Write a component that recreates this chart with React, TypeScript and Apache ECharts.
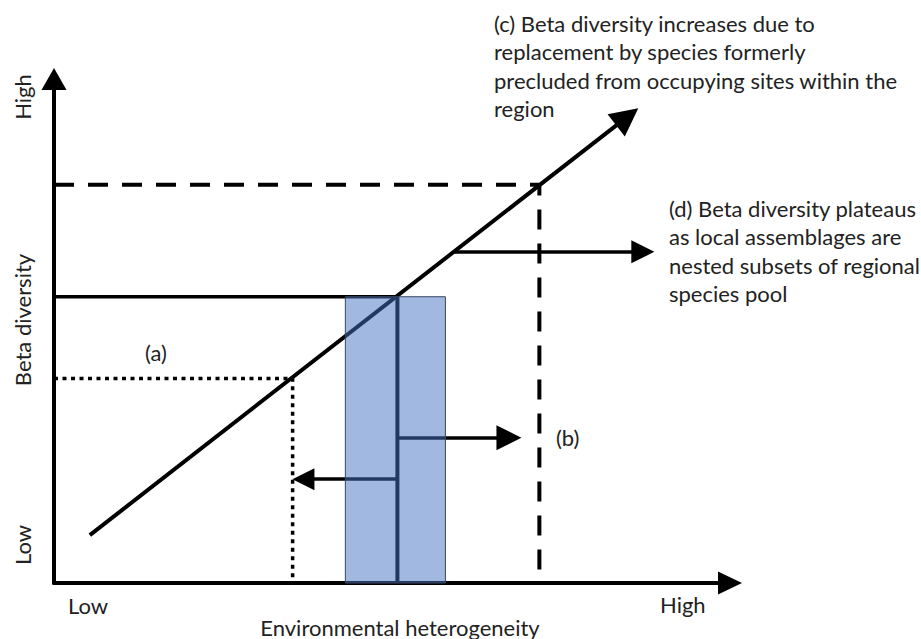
import React, { useEffect, useRef } from "react";
import * as echarts from "echarts";

// Conceptual axes (0 = low, 100 = high)
const xRange = [0, 100];
const yRange = [0, 100];

// Main relationship: beta diversity vs environmental heterogeneity
const diagonal = [[5.3, 9.5], [84.8, 92.5]];
// (a) dotted threshold
const dottedPath = [[0, 40.6], [35.3, 40.6], [35.3, 0]];
// current level (solid)
const solidPath = [[0, 56.8], [50.8, 56.8]];
const centerLine = [[50.8, 0], [50.8, 56.8]];
// (b) dashed threshold
const dashedPath = [[0, 79.0], [71.8, 79.0], [71.8, 0]];
// shaded band around current heterogeneity
const band = [43.1, 57.9, 0, 56.8]; // xStart, xEnd, yStart, yEnd
// arrows
const arrowRight = [[50.8, 28.8], [67.3, 28.8]];
const arrowLeft = [[50.8, 20.6], [36.9, 20.6]];
const arrowD = [[59.2, 65.7], [87.1, 65.7]];

// texts
const xTickLabels = ["Low", "High"];
const yTickLabels = ["Low", "High"];
const xAxisName = "Environmental heterogeneity";
const yAxisName = "Beta diversity";
const noteA = "(a)";
const noteB = "(b)";
const noteC = [
  "(c) Beta diversity increases due to",
  "replacement by species formerly",
  "precluded from occupying sites within the",
  "region",
];
const noteD = [
  "(d) Beta diversity plateaus",
  "as local assemblages are",
  "nested subsets of regional",
  "species pool",
];

const FONT = "Lato, 'Open Sans', sans-serif";
const TXT = "#222";

export default function App() {
  const ref = useRef<HTMLDivElement>(null);
  useEffect(() => {
    document.body.style.margin = "0";
    const chart = echarts.init(ref.current!, undefined, { renderer: "svg" });
    const txt = (text: string, x: number, y: number, extra: any = {}) => ({
      type: "text",
      x,
      y,
      rotation: extra.rotation || 0,
      style: {
        text,
        fill: TXT,
        fontFamily: FONT,
        fontSize: extra.fontSize || 22,
        textAlign: extra.align || "left",
        textVerticalAlign: "middle",
        lineHeight: extra.lineHeight,
      },
    });
    chart.setOption({
      animation: false,
      backgroundColor: "#fff",
      grid: { left: 54, top: 79, right: 191, bottom: 56, outerBoundsMode: "none" },
      xAxis: {
        type: "value",
        min: xRange[0],
        max: xRange[1],
        axisLine: {
          show: true,
          onZero: false,
          symbol: ["none", "triangle"],
          symbolSize: [23, 24],
          lineStyle: { color: "#000", width: 4 },
        },
        axisTick: { show: false },
        axisLabel: { show: false },
        splitLine: { show: false },
      },
      yAxis: {
        type: "value",
        min: yRange[0],
        max: yRange[1],
        axisLine: {
          show: true,
          onZero: false,
          symbol: ["none", "triangle"],
          symbolSize: [25, 22],
          lineStyle: { color: "#000", width: 4 },
        },
        axisTick: { show: false },
        axisLabel: { show: false },
        splitLine: { show: false },
      },
      series: [
        {
          type: "line",
          data: dashedPath,
          symbol: "none",
          lineStyle: { color: "#000", width: 4, type: [20, 14] },
          z: 2,
        },
        {
          type: "line",
          data: dottedPath,
          symbol: "none",
          lineStyle: { color: "#000", width: 3.5, type: [4, 4.5] },
          z: 2,
        },
        {
          type: "line",
          data: solidPath,
          symbol: "none",
          lineStyle: { color: "#000", width: 3.5 },
          z: 2,
        },
        {
          type: "line",
          data: centerLine,
          symbol: "none",
          lineStyle: { color: "#000", width: 4 },
          z: 2,
        },
        {
          type: "lines",
          coordinateSystem: "cartesian2d",
          symbol: ["none", "triangle"],
          z: 3,
          data: [
            { coords: diagonal, lineStyle: { width: 4 }, symbolSize: [24, 28] },
            { coords: arrowD, symbolSize: [23, 23] },
            { coords: arrowRight, symbolSize: [23, 25] },
            { coords: arrowLeft, symbolSize: [23, 22] },
          ],
          symbolSize: [23, 24],
          lineStyle: { color: "#000", width: 3.5, opacity: 1, curveness: 0 },
        },
        {
          type: "custom",
          z: 10,
          data: [band],
          renderItem: (params: any, api: any) => {
            const p0 = api.coord([api.value(0), api.value(3)]);
            const p1 = api.coord([api.value(1), api.value(2)]);
            return {
              type: "rect",
              shape: { x: p0[0], y: p0[1], width: p1[0] - p0[0], height: p1[1] - p0[1] },
              style: { fill: "rgba(68,114,196,0.5)", stroke: "#3a4660", lineWidth: 1 },
            };
          },
        },
      ],
      graphic: [
        txt(noteC.join("\n"), 494, 66, { lineHeight: 28.6 }),
        txt(noteD.join("\n"), 669, 251, { lineHeight: 28.6 }),
        txt(noteA, 145, 352),
        txt(noteB, 556, 437),
        txt(xTickLabels[0], 68, 605),
        txt(xTickLabels[1], 660, 604),
        txt(xAxisName, 400, 627, { align: "center" }),
        txt(yTickLabels[1], 22, 97, { align: "center", rotation: Math.PI / 2 }),
        txt(yAxisName, 22, 320, { align: "center", rotation: Math.PI / 2 }),
        txt(yTickLabels[0], 22, 545, { align: "center", rotation: Math.PI / 2 }),
      ],
    });
    return () => chart.dispose();
  }, []);
  return <div ref={ref} style={{ width: 921, height: 639 }} />;
}
